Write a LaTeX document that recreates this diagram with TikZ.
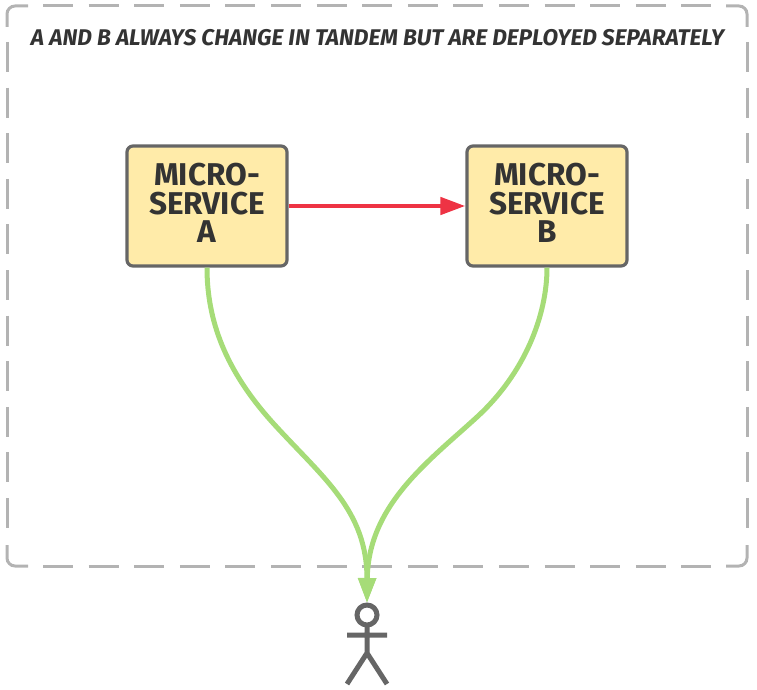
\documentclass[tikz,border=0pt]{standalone}
\usepackage{fontspec}
\setmainfont{Fira Sans}
\usetikzlibrary{arrows.meta}
\definecolor{boxfill}{HTML}{FFEBA9}
\definecolor{boxline}{HTML}{666666}
\definecolor{ink}{HTML}{333333}
\definecolor{frameline}{HTML}{B3B3B3}
\definecolor{redline}{HTML}{EE3344}
\definecolor{greenline}{HTML}{A6DC78}
\tikzset{
  x=1pt,y=-1pt,
  service/.style={draw=boxline,fill=boxfill,line width=3.2pt,rounded corners=6pt,minimum width=160pt,minimum height=120pt,inner sep=0pt,align=center,text=ink},
  svctext/.style={text=ink,inner sep=0pt,align=center,font=\fontsize{31.5}{28.5}\selectfont\bfseries},
  frameside/.style={draw=frameline,line width=3pt,dash pattern=on 30pt off 15.6pt},
  framecorner/.style={draw=frameline,line width=3pt,rounded corners=8pt},
  redarrow/.style={draw=redline,line width=4.5pt,-{Triangle[length=25pt,width=17pt]}},
  greenarrow/.style={draw=greenline,line width=5pt,-{Triangle[length=25pt,width=17pt]}},
  person/.style={draw=boxline,line width=5pt},
  titletext/.style={text=ink,font=\fontsize{22.7}{24}\selectfont\itshape\bfseries,inner sep=0pt}
}
\begin{document}
\begin{tikzpicture}
\useasboundingbox (0,0) rectangle (757,690);
% dashed frame: four straight runs and four corner pieces
\draw[frameside] (43,6) -- (712,6);
\draw[frameside] (43,566) -- (712,566);
\draw[frameside] (7,42) -- (7,530);
\draw[frameside] (747,42) -- (747,530);
\draw[framecorner] (7,27) -- (7,6) -- (28,6);
\draw[framecorner] (726,6) -- (747,6) -- (747,27);
\draw[framecorner] (7,545) -- (7,566) -- (28,566);
\draw[framecorner] (726,566) -- (747,566) -- (747,545);
\node[titletext] (title) at (377.5,38) {A AND B ALWAYS CHANGE IN TANDEM BUT ARE DEPLOYED SEPARATELY};
\node[service] (a) at (207,206) {};
\node[service] (b) at (547,206) {};
\node[svctext] (atext) at (207,203) {MICRO-\\SERVICE\\A};
\node[svctext] (btext) at (547,203) {MICRO-\\SERVICE\\B};
\coordinate (actor) at (367,603);
\draw[redarrow] (a.east) -- (b.west);
\draw[greenarrow] (a.south) .. controls (207,320) and (225,370) .. (273,423) .. controls (323,478) and (367,510) .. (actor);
\draw[greenarrow] (b.south) .. controls (547,315) and (525,373) .. (477,417) .. controls (429,461) and (368,505) .. (actor);
\draw[person] (367,615) circle (10);
\draw[person] (367,625) -- (367,653) (347,635) -- (387,635) (347,684) -- (367,653) -- (387,684);
\end{tikzpicture}
\end{document}
